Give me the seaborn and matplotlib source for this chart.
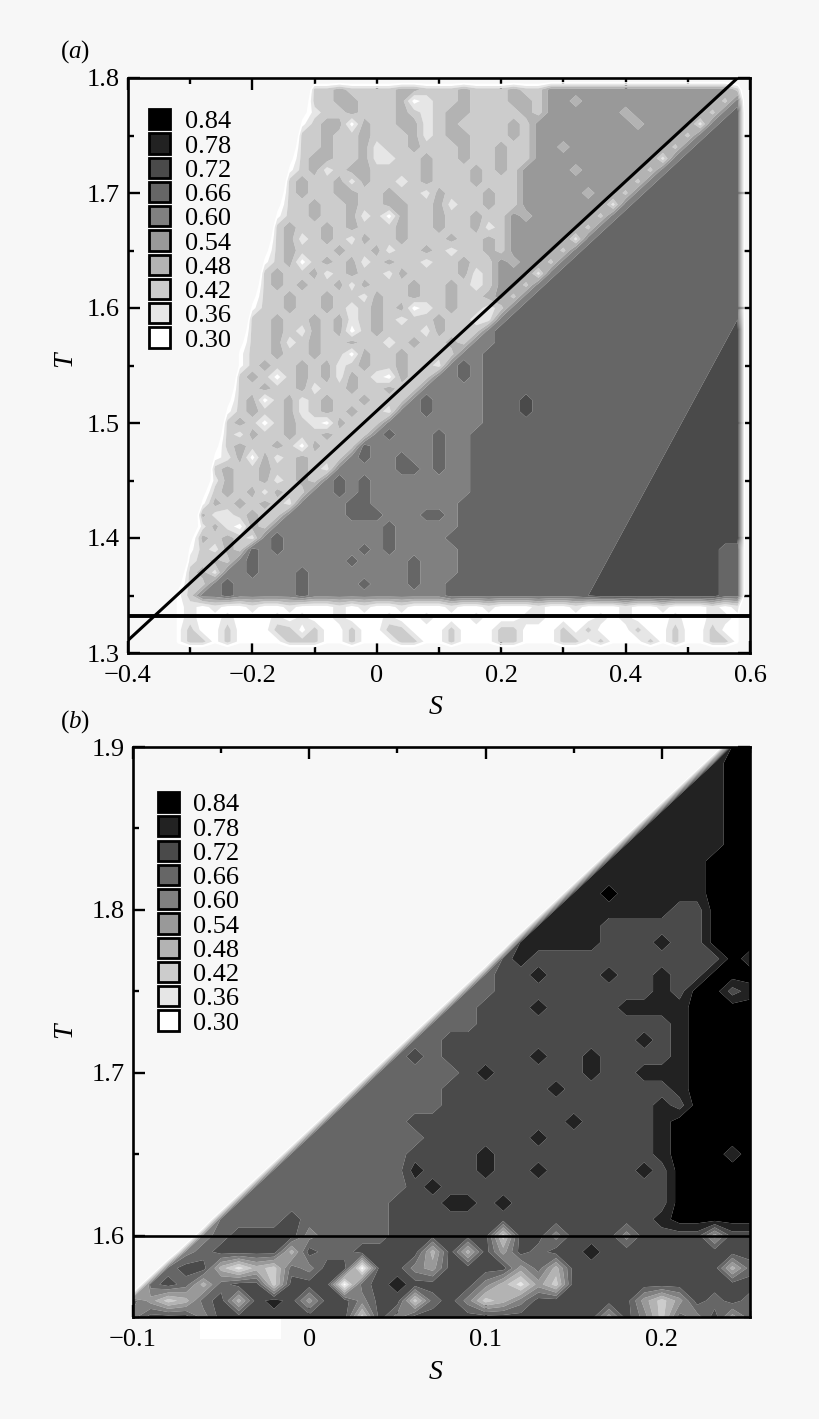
import numpy as np
import matplotlib
matplotlib.use("Agg")
import matplotlib.pyplot as plt
from matplotlib.patches import Patch, Rectangle
import seaborn as sns

# contour classes
legend_labels = ["0.84", "0.78", "0.72", "0.66", "0.60", "0.54", "0.48", "0.42", "0.36", "0.30"]
legend_greys = ["#000000", "#222222", "#4a4a4a", "#666666", "#808080",
                "#999999", "#b3b3b3", "#cccccc", "#e6e6e6", "#ffffff"]
class_edges = [0.30, 0.36, 0.42, 0.48, 0.54, 0.60, 0.66, 0.72, 0.78, 0.84, 0.90]

# grid of panel a: S -0.4..0.6 by 0.02, T 1.8 (first row) down to 1.3 by 0.01
# one char per grid node: "." no data, digit k = class k counted from 0.30,
# h sits on the 0.72 contour, y and z are the faint rim around the data
a_s = np.linspace(-0.4, 0.6, 51)
a_t = np.linspace(1.3, 1.8, 51)
a_rows = [
    "."*15+"z"*35+".",
    "."*15+"2232222332223222322"+"4"*15+"2.",
    "."*14+"z"+"2233222301223222332"+"44344444444444"+"25.",
    "."*14+"y"+"1223222321233222232"+"4444443444444"+"256.",
    "."*14+"0"+"233032233123222232"+"4444444434444"+"1566.",
    "."*14+"2232232223123322232"+"4"*12+"25666.",
    "."*13+"z"+"2232231223222322322"+"44344444444"+"256666.",
    "."*13+"y"+"2332231122322322322"+"4"*10+"15"+"6"*5+".",
    "."*13+"0"+"231233222232223232"+"4444344444"+"25"+"6"*6+".",
    "."*13+"2322313221232223222"+"4"*9+"25"+"6"*7+".",
    "."*12+"z"+"2322332232213222322"+"44444344"+"25"+"6"*8+".",
    "."*12+"y"+"2232232233223122322"+"4"*7+"15"+"6"*9+".",
    "."*12+"0"+"223223120322322322"+"4344444"+"25"+"6"*10+".",
    "."*12+"2322323222322322312"+"4"*6+"25"+"6"*11+".",
    "."*11+"z"+"2312321322322232232"+"4"*5+"15"+"6"*12+".",
    "."*11+"y"+"2322232231223212232"+"4"*4+"25"+"6"*13+".",
    "."*11+"0"+"230232312322122322"+"4344"+"25"+"6"*14+".",
    "."*11+"2322312322132222312"+"444"+"15"+"6"*15+".",
    "."*10+"z"+"2323223132223223212"+"44"+"25"+"6"*16+".",
    "."*10+"y"+"2232232213223223223"+"4"+"25"+"6"*17+".",
    "."*10+"0"+"2232232123230123221"+"25"+"6"*18+".",
    "."*10+"2232232312321223221"+"15"+"6"*18+"h.",
    "."*9+"z"+"223213230232221322"+"25"+"6"*19+"7.",
    "."*9+"y"+"22312322322123223"+"255"+"6"*18+"h7.",
    "."*9+"0"+"2232232203223222"+"255"+"6"*19+"77.",
    "."*9+"0"+"232232312322322"+"1565"+"6"*18+"h77.",
    "."*9+"232023231321032"+"25565"+"6"*18+"777.",
    "."*8+"z"+"22322312232232"+"255555"+"6"*17+"h777.",
    "."*8+"y"+"2302312322322"+"2565555"+"66676666666666666"+"7777.",
    "."*8+"0"+"232231232322"+"15565555"+"6667666666666666h"+"7777.",
    "."*8+"232023210322"+"25"+"5"*7+"6"*16+"77777.",
    "."*7+"z"+"21322322322"+"256555655"+"6"*16+"h77777.",
    "."*7+"y"+"2322320322"+"2655555655"+"6"*16+"777777.",
    "."*7+"0"+"130312322"+"25655655655"+"6"*15+"h777777.",
    "."*7+"232232232"+"155555665655"+"6"*15+"7"*7+".",
    "."*6+"z"+"13223123"+"2565655555555"+"6"*14+"h"+"7"*7+".",
    "."*6+"y"+"2323132"+"25565655555555"+"6"*14+"7"*8+".",
    "."*6+"0"+"323232"+"15555665555555"+"6"*14+"h"+"7"*8+".",
    "."*6+"311232"+"255555666555665"+"6"*14+"7"*9+".",
    "."*5+"z"+"13103"+"2555555555655555"+"6"*13+"h"+"7"*9+".",
    "."*5+"y"+"3232"+"15655555555655556"+"6"*13+"7"*10+".",
    "."*5+"0"+"213"+"265655555565655555"+"6"*12+"h"+"7"*8+"66.",
    "."*5+"123"+"2565555555655556555"+"6"*12+"7"*9+"66.",
    "."*4+"z"+"23"+"15565556555555556555"+"6"*11+"h"+"7"*9+"66.",
    "."*4+"y"+"2"+"25655555655556555655"+"6"*12+"7"*10+"66.",
    "."*4+"0"+"2556"+"55555655555555555"+"6"*11+"h"+"7"*10+"66.",
    "."*4+"0101001001000101001000100100010010001001000101"+".",
    "."*4+"0100100010100100010010001000110000101000100110"+".",
    "."*4+"0200200022020020022000200022000202000200200200"+".",
    "."*4+"0220200002220020002200200022000220200020200220"+".",
    "."*4+"z"*46+".",
]

# grid of panel b: S -0.10..0.25 by 0.01, T 1.90 (first row) down to 1.55 by 0.01
b_s = np.linspace(-0.10, 0.25, 36)
b_t = np.linspace(1.55, 1.90, 36)
b_rows = [
    "."*34+"99",
    "."*33+"899",
    "."*32+"8899",
    "."*31+"88899",
    "."*30+"888899",
    "."*29+"8888899",
    "."*28+"88888899",
    "."*27+"888888999",
    "."*26+"8888888999",
    "."*25+"88988888999",
    "."*24+"888888877999",
    "."*23+"8888777777999",
    "."*22+"88888777877999",
    "."*21+"7877777777777989",
    "."*20+"6778777877877999",
    "."*19+"66"+"7"*9+"87"+"9978",
    "."*18+"66777"+"8"+"7777"+"8888"+"9999",
    "."*17+"666"+"7"*11+"8"+"9999",
    "."*16+"66"+"7"*11+"878"+"9999",
    "."*15+"676"+"77777"+"8"+"77"+"8"+"7777"+"8"+"9999",
    "."*14+"66666"+"78"+"77777"+"8"+"77"+"888"+"9999",
    "."*13+"66666"+"777777"+"87"+"7777"+"78"+"9999",
    "."*12+"666666"+"7"*12+"87"+"9999",
    "."*11+"66666"+"7"*9+"8"+"7777"+"8"+"99999",
    "."*10+"6666666"+"777777"+"8"+"777777"+"8"+"99999",
    "."*9+"6666666"+"7777"+"8"+"7"*9+"8"+"99989",
    "."*8+"66666666"+"8777"+"8"+"77"+"8"+"77777"+"87"+"99999",
    "."*7+"666666666"+"78"+"7"*12+"7"+"99999",
    "."*6+"666666666"+"777"+"88"+"78"+"7"*8+"7"+"99999",
    "."*5+"6666"+"7"+"66666"+"7"*15+"8"+"99999",
    "."*4+"5"+"6"+"7777"+"5"+"6666"+"777777"+"2"+"77"+"5"+"777"+"5"+"7777"+"4"+"77",
    "."*3+"56"+"7777"+"3"+"7"+"66"+"7777"+"3"+"7"+"3"+"7"+"4"+"7"+"6"+"77"+"8"+"7"*9,
    "."*2+"6"+"77"+"3"+"1"+"3"+"2"+"6"+"5"+"77"+"0"+"77"+"5"+"4"+"7777"+"4"+"6"+"3"+"7"*9+"36",
    "."+"6"+"7"+"6"+"3"+"6"+"77"+"2"+"777"+"0"+"6"+"7"+"8"+"7777"+"5"+"3"+"1"+"4"+"2"+"7"*11,
    "64236737874"+"77"+"5"+"77"+"2"+"6"+"7"+"5"+"2"+"3"+"5"+"777777"+"4"+"2"+"4"+"7"+"6"+"7"+"6",
    "5777"+"5"+"7"*8+"2"+"7"+"5"+"7"*11+"4"+"7"+"5"+"2"+"6"+"5"+"7"+"4"+"6",
]

# guide lines
a_diag_s = [-0.4, 0.58]
a_diag_t = [1.311, 1.8]
a_flat_s = [-0.4, 0.6]
a_flat_t = [1.332, 1.332]
b_flat_s = [-0.1, 0.25]
b_flat_t = [1.6, 1.6]

a_xmajor = [-0.4, -0.2, 0, 0.2, 0.4, 0.6]
a_xlabels = ["\u22120.4", "\u22120.2", "0", "0.2", "0.4", "0.6"]
a_xminor = [-0.3, -0.1, 0.1, 0.3, 0.5]
a_ymajor = [1.3, 1.4, 1.5, 1.6, 1.7, 1.8]
a_yminor = [1.35, 1.45, 1.55, 1.65, 1.75]
b_xmajor = [-0.1, 0, 0.1, 0.2]
b_xlabels = ["\u22120.1", "0", "0.1", "0.2"]
b_xminor = [-0.05, 0.05, 0.15, 0.25]
b_ymajor = [1.6, 1.7, 1.8, 1.9]
b_yminor = [1.55, 1.65, 1.75, 1.85]

BG = "#f7f7f7"
W, H = 820, 1419
FS = 19

sns.set_theme(style="ticks", rc={
    "figure.facecolor": BG, "axes.facecolor": BG, "axes.edgecolor": "black",
    "axes.linewidth": 1.9, "xtick.color": "black", "ytick.color": "black",
    "text.color": "black", "axes.labelcolor": "black",
    "mathtext.fontset": "custom", "mathtext.rm": "Liberation Serif",
    "mathtext.it": "Liberation Serif:italic",
})
plt.rcParams["font.family"] = ["Liberation Serif", "DejaVu Serif"]

SPECIAL = {".": 0.0, "h": 0.72, "z": 0.15, "y": 0.25}


def node_value(ch):
    if ch in SPECIAL:
        return SPECIAL[ch]
    return 0.33 + 0.06 * int(ch)


def decode(rows, ncol):
    grid = []
    for row in rows[::-1]:
        row = row[:ncol].ljust(ncol, ".")
        grid.append([node_value(ch) for ch in row])
    return np.array(grid)


def panel(box, s, t, rows, xmajor, xlabels, xminor, ymajor, yminor, xlim, ylim,
          legend_xy, sx, tpos):
    left, right, top, bottom = box
    ax = fig.add_axes([left / W, 1 - bottom / H, (right - left) / W, (bottom - top) / H])
    ax.contourf(s, t, decode(rows, len(s)), levels=class_edges,
                colors=legend_greys[::-1], antialiased=True)
    ax.set_xlim(*xlim)
    ax.set_ylim(*ylim)
    ax.set_xticks(xmajor)
    ax.set_xticklabels(xlabels)
    ax.set_xticks(xminor, minor=True)
    ax.set_yticks(ymajor)
    ax.set_yticklabels(["%.1f" % v for v in ymajor])
    ax.set_yticks(yminor, minor=True)
    ax.tick_params(which="major", direction="in", top=True, right=True, length=8.5,
                   width=1.7, labelsize=FS)
    ax.tick_params(axis="x", which="major", pad=9)
    ax.tick_params(axis="y", which="major", pad=6)
    ax.tick_params(which="minor", direction="in", top=True, right=True, length=4.5, width=1.7)
    ax.set_xlabel("S", style="italic", fontsize=20)
    ax.xaxis.set_label_coords(*sx)
    ax.set_ylabel("T", style="italic", fontsize=20)
    ax.yaxis.set_label_coords(*tpos)
    handles = [Patch(facecolor=g, edgecolor="black", linewidth=2.0) for g in legend_greys]
    ax.legend(handles, legend_labels, loc="upper left", bbox_to_anchor=legend_xy,
              frameon=False, fontsize=FS, borderpad=0, borderaxespad=0,
              handlelength=0.8, handleheight=0.8, labelspacing=0.0, handletextpad=0.55)
    return ax


fig = plt.figure(figsize=(W / 100, H / 100), dpi=100, facecolor=BG)

ax_a = panel((128, 750, 78, 653), a_s, a_t, a_rows, a_xmajor, a_xlabels, a_xminor,
             a_ymajor, a_yminor, (-0.4, 0.6), (1.3, 1.8),
             (0.034, 0.946), (0.494, -0.073), (-0.082, 0.51))
sns.lineplot(x=a_diag_s, y=a_diag_t, ax=ax_a, color="black", linewidth=2.2, errorbar=None)
sns.lineplot(x=a_flat_s, y=a_flat_t, ax=ax_a, color="black", linewidth=2.8, errorbar=None)

ax_b = panel((133, 750, 747, 1317), b_s, b_t, b_rows, b_xmajor, b_xlabels, b_xminor,
             b_ymajor, b_yminor, (-0.1, 0.25), (1.55, 1.9),
             (0.04, 0.921), (0.49, -0.075), (-0.09, 0.503))
sns.lineplot(x=b_flat_s, y=b_flat_t, ax=ax_b, color="black", linewidth=1.9, errorbar=None)

fig.text(60 / W, 1 - 52 / H, r"($\mathit{a}$)", fontsize=18, va="center")
fig.text(60 / W, 1 - 722 / H, r"($\mathit{b}$)", fontsize=18, va="center")

# stray white patch under the lower panel in the source image
fig.add_artist(Rectangle((200 / W, 1 - 1339 / H), 81 / W, 20 / H, transform=fig.transFigure,
                         facecolor="white", edgecolor="none"))

fig.savefig("out.png", dpi=100, facecolor=BG)
